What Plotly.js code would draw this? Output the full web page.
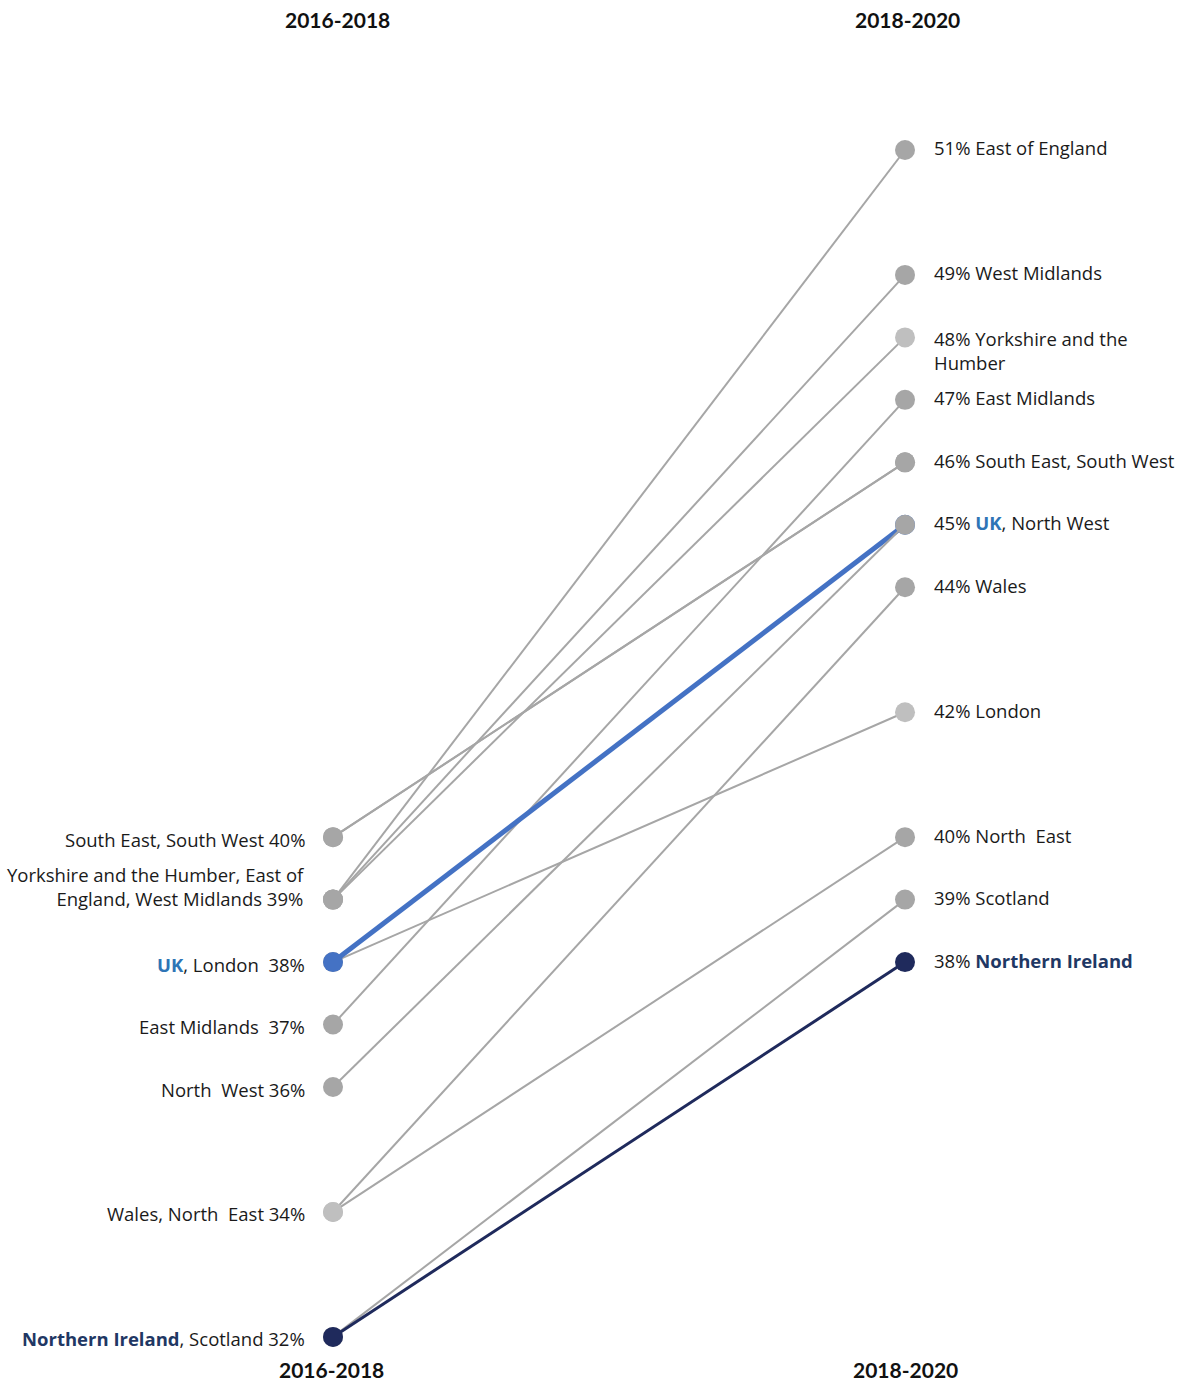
<!DOCTYPE html>
<html>
<head>
<meta charset="utf-8">
<script src="https://cdn.plot.ly/plotly-3.0.1.min.js"></script>
<style>html,body{margin:0;padding:0;background:#fff;}#chart{width:1187px;height:1381px;}</style>
</head>
<body>
<div id="chart"></div>
<script>
// ---- data ----
const periods = ["2016-2018", "2018-2020"];
const regions = ["East of England", "West Midlands", "Yorkshire and the Humber", "East Midlands",
  "South East", "South West", "London", "Wales", "North East", "Scotland", "UK", "North West", "Northern Ireland"];
const start = [39, 39, 39, 37, 40, 40, 38, 34, 34, 32, 38, 36, 32];
const end   = [51, 49, 48, 47, 46, 46, 42, 44, 40, 39, 45, 45, 38];

// label groups (text shown next to each value)
const leftLabelValues = [40, 39, 38, 37, 36, 34, 32];
const leftLabelTexts = [
  "South East, South West 40%",
  "Yorkshire and the Humber, East of<br>England, West Midlands 39%",
  "<b><span style='color:#2e75b6'>UK</span></b>, London  38%",
  "East Midlands  37%",
  "North  West 36%",
  "Wales, North  East 34%",
  "<b><span style='color:#1f3864'>Northern Ireland</span></b>, Scotland 32%"
];
const rightLabelValues = [51, 49, 48, 47, 46, 45, 44, 42, 40, 39, 38];
const rightLabelTexts = [
  "51% East of England",
  "49% West Midlands",
  "48% Yorkshire and the<br>Humber",
  "47% East Midlands",
  "46% South East, South West",
  "45% <b><span style='color:#2e75b6'>UK</span></b>, North West",
  "44% Wales",
  "42% London",
  "40% North  East",
  "39% Scotland",
  "38% <b><span style='color:#1f3864'>Northern Ireland</span></b>"
];

// ---- styles ----
const GRAY = "#a6a6a6", LIGHT = "#bfbfbf", UKBLUE = "#4472c4", NAVY = "#1f2a5c";
const lightStart = ["Wales", "North East"];
const lightEnd = ["Yorkshire and the Humber", "London"];

function styleFor(name) {
  if (name === "UK") return {color: UKBLUE, width: 5};
  if (name === "Northern Ireland") return {color: NAVY, width: 3};
  return {color: GRAY, width: 2};
}

const traces = [];
const order = regions.map((r, i) => i).sort((a, b) => {
  const rank = n => n === "UK" ? 1 : n === "Northern Ireland" ? 2 : n === "North West" ? 3 : 0;
  return rank(regions[a]) - rank(regions[b]);
});
order.forEach(i => {
  const name = regions[i];
  const s = styleFor(name);
  let mc = [s.color, s.color];
  if (s.color === GRAY) {
    mc = [lightStart.includes(name) ? LIGHT : GRAY, lightEnd.includes(name) ? LIGHT : GRAY];
  }
  traces.push({
    x: [0, 1], y: [start[i], end[i]], name: name,
    mode: "lines+markers", type: "scatter",
    line: {color: s.color, width: s.width},
    marker: {size: 20, color: mc},
    hoverinfo: "name+y", showlegend: false
  });
});
const ann = [];
const fontLbl = {family: "'Open Sans', Lato, sans-serif", size: 18.5, color: "#1a1a1a"};
leftLabelValues.forEach((v, k) => {
  const multi = leftLabelTexts[k].includes("<br>");
  ann.push({x: 0, y: v, xref: "x", yref: "y", text: leftLabelTexts[k], showarrow: false,
    xanchor: "right", yanchor: "middle", align: "right", xshift: -26, yshift: multi ? 13 : -2, font: fontLbl});
});
rightLabelValues.forEach((v, k) => {
  const multi = rightLabelTexts[k].includes("<br>");
  ann.push({x: 1, y: v, xref: "x", yref: "y", text: rightLabelTexts[k], showarrow: false,
    xanchor: "left", yanchor: "middle", align: "left", xshift: 27, yshift: multi ? -13 : 2, font: fontLbl});
});
const fontHead = {family: "Lato, 'Open Sans', sans-serif", size: 21, color: "#111"};
periods.forEach((p, k) => {
  ann.push({x: k, y: 1, xref: "x", yref: "paper", text: "<b>" + p + "</b>", showarrow: false,
    xanchor: "center", yanchor: "middle", yshift: -19, xshift: k === 0 ? 4 : 2, font: fontHead});
  ann.push({x: k, y: 0, xref: "x", yref: "paper", text: "<b>" + p + "</b>", showarrow: false,
    xanchor: "center", yanchor: "middle", yshift: 12, xshift: k === 0 ? -2 : 0, font: fontHead});
});

const layout = {
  width: 1187, height: 1381,
  margin: {l: 0, r: 0, t: 0, b: 0},
  paper_bgcolor: "#fff", plot_bgcolor: "#fff",
  xaxis: {range: [-0.5822, 1.4930], visible: false, fixedrange: true},
  yaxis: {range: [31.294, 53.401], visible: false, fixedrange: true},
  annotations: ann,
  showlegend: false
};
Plotly.newPlot("chart", traces, layout, {displayModeBar: false, staticPlot: true});
</script>
</body>
</html>
